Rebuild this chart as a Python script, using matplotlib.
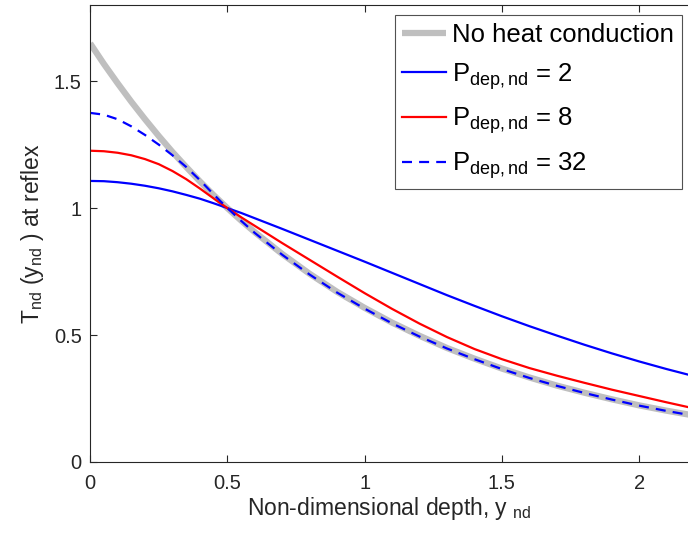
import matplotlib
matplotlib.use("Agg")
import matplotlib.pyplot as plt

plt.rcParams['font.family'] = ['Liberation Sans', 'DejaVu Sans']
plt.rcParams['mathtext.fontset'] = 'custom'
plt.rcParams['mathtext.rm'] = 'Liberation Sans'
plt.rcParams['mathtext.it'] = 'Liberation Sans'

depth = [0.0, 0.05, 0.1, 0.15, 0.2, 0.25, 0.3, 0.35, 0.4, 0.45, 0.5, 0.55, 0.6,
         0.7, 0.8, 0.9, 1.0, 1.1, 1.2, 1.3, 1.4, 1.5, 1.6, 1.7, 1.8, 1.9, 2.0,
         2.1, 2.2]
no_conduction = [1.649, 1.568, 1.492, 1.419, 1.350, 1.284, 1.221, 1.162, 1.105,
                 1.051, 1.000, 0.951, 0.905, 0.819, 0.741, 0.670, 0.607, 0.549,
                 0.497, 0.449, 0.407, 0.368, 0.333, 0.301, 0.273, 0.247, 0.223,
                 0.202, 0.183]
p_dep_2 = [1.107, 1.106, 1.102, 1.096, 1.088, 1.078, 1.066, 1.052, 1.037, 1.019,
           1.000, 0.981, 0.960, 0.918, 0.875, 0.832, 0.789, 0.745, 0.701, 0.657,
           0.615, 0.574, 0.535, 0.498, 0.462, 0.428, 0.396, 0.366, 0.338]
p_dep_8 = [1.226, 1.224, 1.218, 1.208, 1.193, 1.173, 1.146, 1.114, 1.077, 1.038,
           1.000, 0.964, 0.930, 0.862, 0.796, 0.730, 0.665, 0.603, 0.545, 0.492,
           0.445, 0.405, 0.370, 0.340, 0.312, 0.285, 0.260, 0.235, 0.211]
p_dep_32 = [1.375, 1.368, 1.350, 1.322, 1.288, 1.250, 1.208, 1.162, 1.110, 1.054,
            1.000, 0.950, 0.902, 0.816, 0.738, 0.667, 0.604, 0.546, 0.494, 0.447,
            0.405, 0.366, 0.331, 0.300, 0.272, 0.246, 0.222, 0.201, 0.182]

x_ticks = [0, 0.5, 1, 1.5, 2]
x_tick_labels = ['0', '0.5', '1', '1.5', '2']
y_ticks = [0, 0.5, 1, 1.5]
y_tick_labels = ['0', '0.5', '1', '1.5']

ink = '#262626'

fig = plt.figure(figsize=(6.88, 5.37), dpi=100)
ax = fig.add_axes([0.131, 0.1397, 0.869, 0.851])

ax.plot(depth, no_conduction, color='#bfbfbf', lw=4.5, solid_capstyle='butt',
        solid_joinstyle='round', label='No heat conduction')
ax.plot(depth, p_dep_2, color='#0000ff', lw=1.6, solid_joinstyle='round',
        label=r'P$_{\mathregular{dep,nd}}$ = 2')
ax.plot(depth, p_dep_8, color='#ff0000', lw=1.6, solid_joinstyle='round',
        label=r'P$_{\mathregular{dep,nd}}$ = 8')
ax.plot(depth, p_dep_32, color='#0000ff', lw=1.6, dashes=(4.5, 3.2),
        label=r'P$_{\mathregular{dep,nd}}$ = 32')

ax.set_xlim(0, 2.178)
ax.set_ylim(0, 1.8)
ax.set_xticks(x_ticks)
ax.set_xticklabels(x_tick_labels)
ax.set_yticks(y_ticks)
ax.set_yticklabels(y_tick_labels)
ax.tick_params(direction='in', length=5, width=0.8, colors=ink, labelsize=14.5,
               top=True, right=False, pad=6)
ax.tick_params(axis='x', pad=9)
for side in ['left', 'bottom', 'top']:
    ax.spines[side].set_color(ink)
    ax.spines[side].set_linewidth(0.8)
ax.spines['right'].set_visible(False)

ax.set_xlabel(r'Non-dimensional depth, y $_{\mathregular{nd}}$', fontsize=16.5,
              color=ink, labelpad=1)
ax.set_ylabel(r'T$_{\mathregular{nd}}$ (y$_{\mathregular{nd}}$ ) at reflex',
              fontsize=16.5, color=ink, labelpad=6)

leg = ax.legend(loc='upper right', bbox_to_anchor=(0.99, 0.978), fontsize=18.5,
                frameon=True, fancybox=False, edgecolor='#262626',
                handlelength=1.7, handletextpad=0.25, borderpad=0.3,
                labelspacing=0.55, borderaxespad=0)
leg.get_frame().set_linewidth(0.8)

fig.savefig('out.png', dpi=100)
